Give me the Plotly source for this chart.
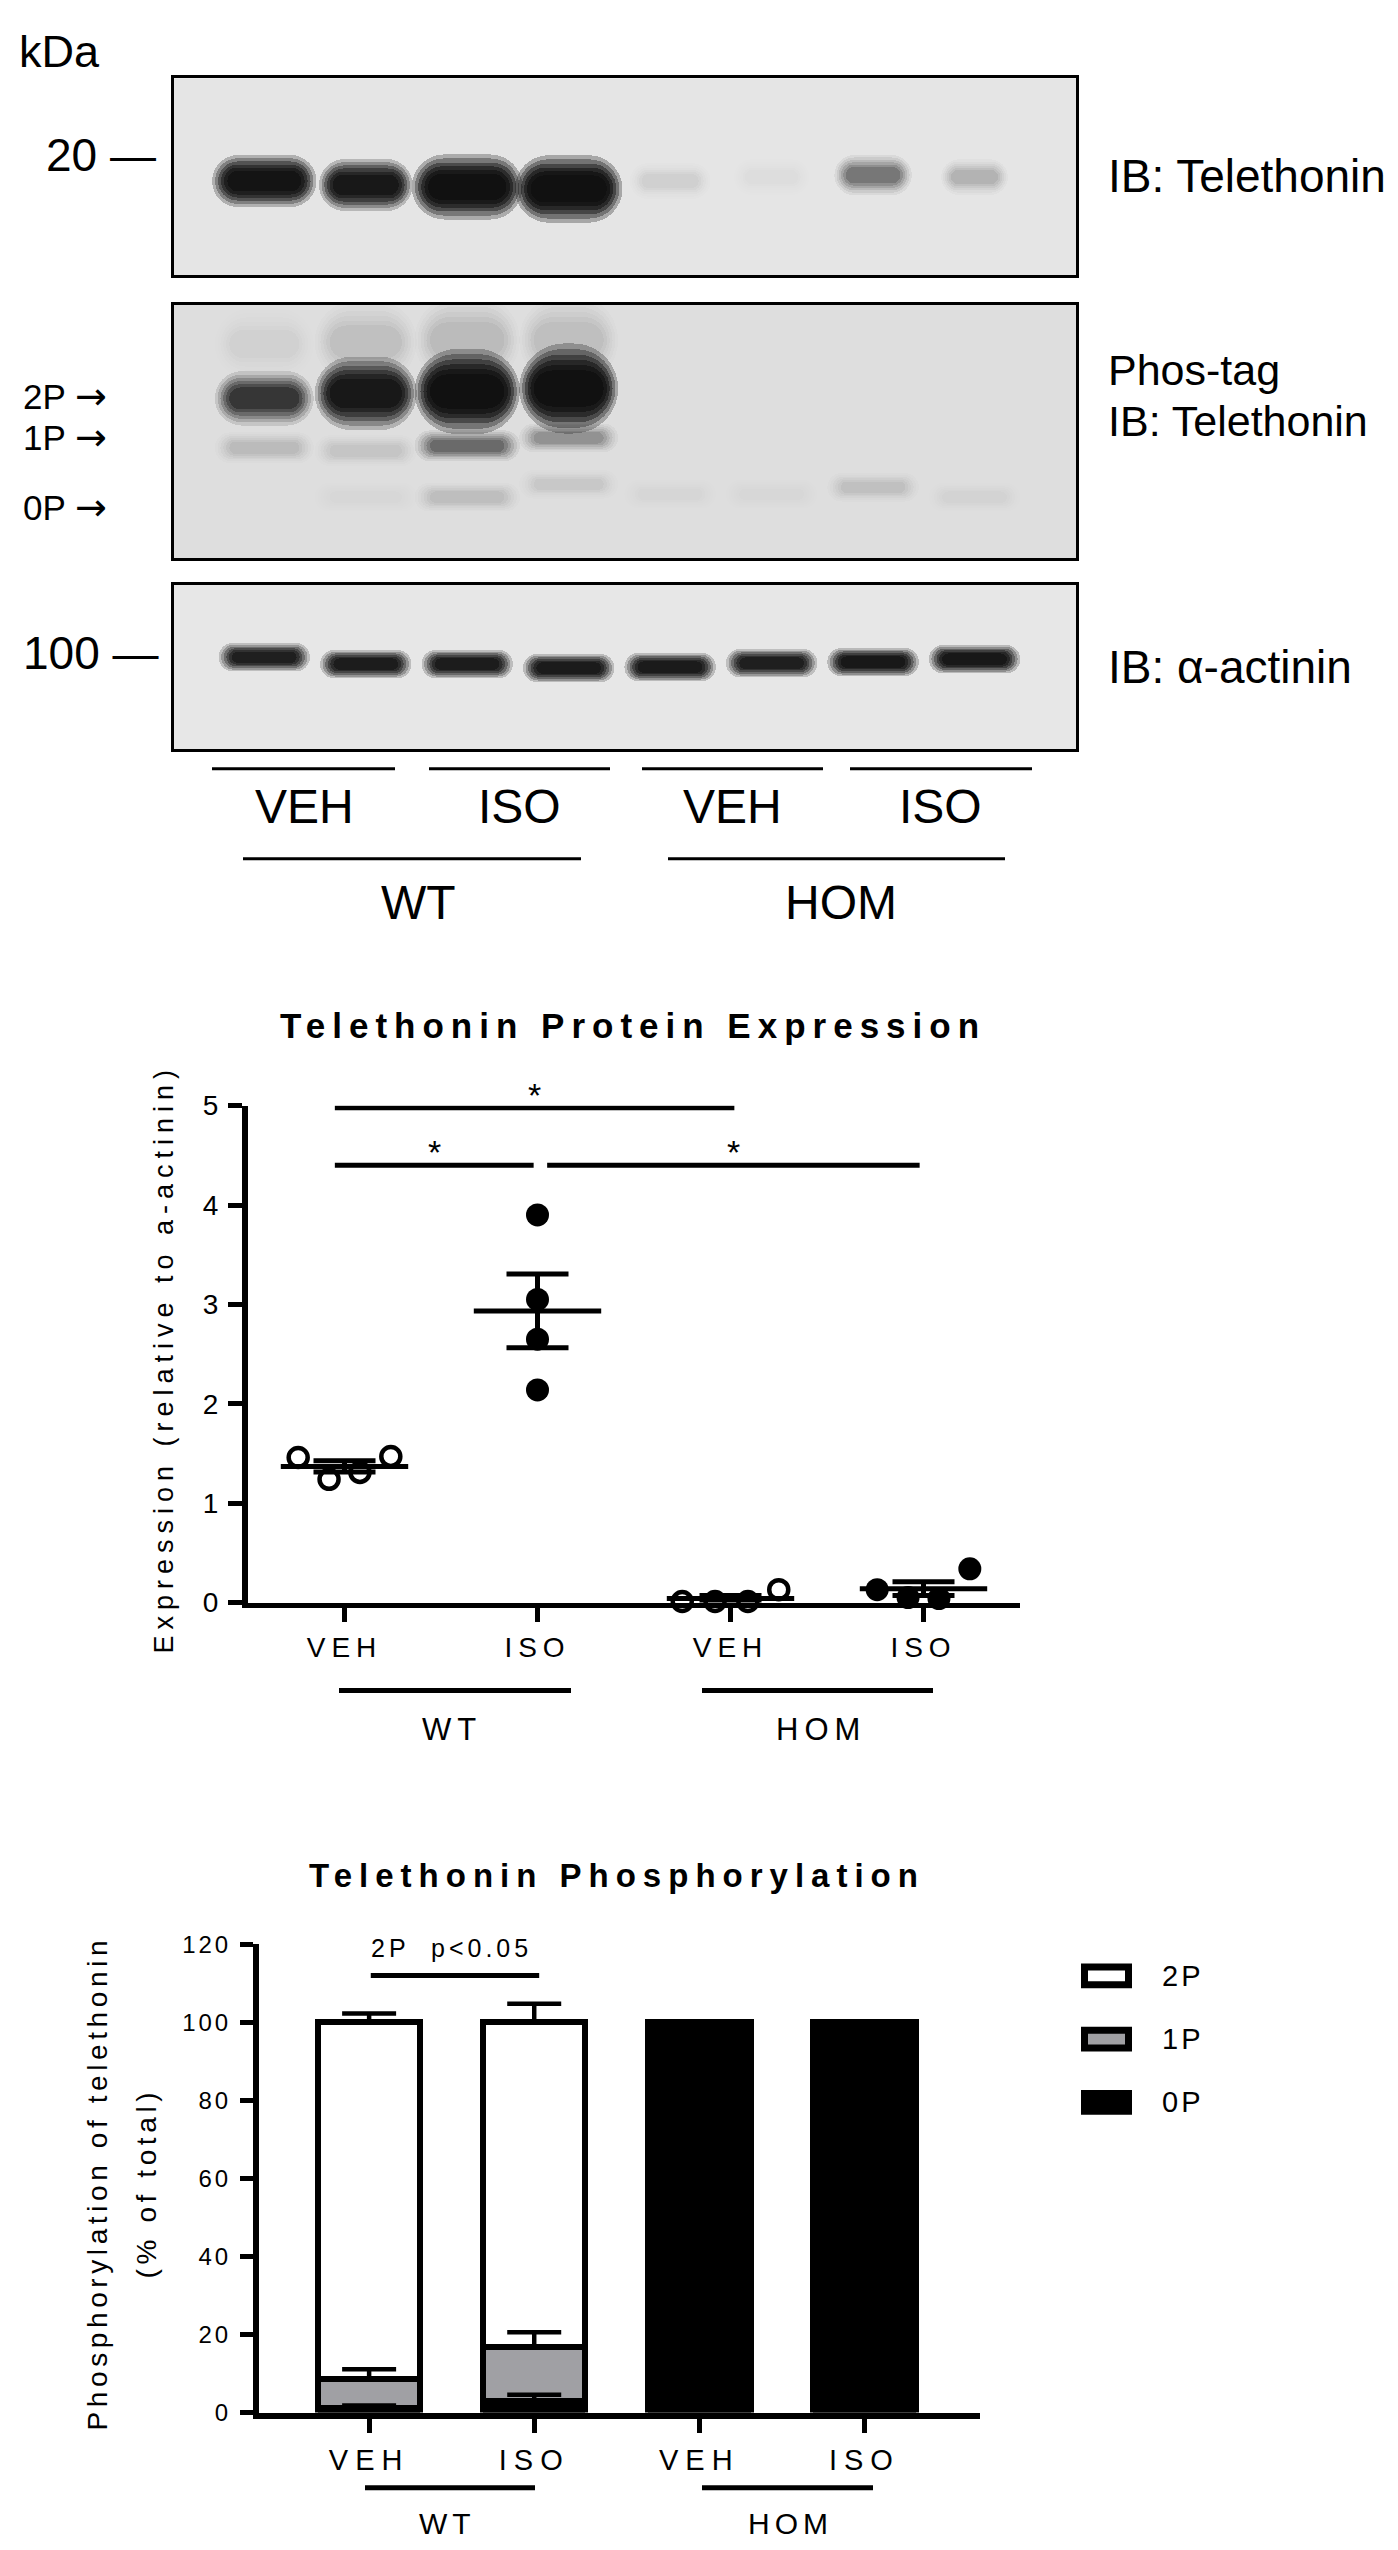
import numpy as np
import plotly.graph_objects as go

W, H = 1398, 2550
FONT = "Liberation Sans, Arial, Helvetica, sans-serif"


def px(x):
    return x / W


def py(y):
    return 1 - y / H


def spaced(text, gap):
    return f'<span style="letter-spacing:{gap}px">{text}</span>'


# ---------------- western blots ----------------
lanes = [1, 2, 3, 4, 5, 6, 7, 8]
treatments = ["VEH", "ISO", "VEH", "ISO"]
genotypes = ["WT", "HOM"]

# IB: Telethonin  (darkness 0-1, band centre / height in px below blot top, width in lanes)
tel_int = [0.97, 0.95, 0.98, 0.99, 0.08, 0.03, 0.50, 0.22]
tel_pos = [104, 108, 110, 112, 104, 100, 98, 100]
tel_h = [44, 44, 55, 57, 30, 30, 34, 30]
tel_w = [0.97, 0.87, 1.03, 1.00, 0.75, 0.70, 0.72, 0.62]

# Phos-tag IB: Telethonin
smear_int = [0.05, 0.12, 0.15, 0.13, 0, 0, 0, 0]
smear_pos = [40, 38, 36, 36, 40, 40, 40, 40]
smear_h = [60, 70, 75, 75, 60, 60, 60, 60]
p2_int = [0.80, 0.95, 0.98, 0.98, 0, 0, 0, 0]
p2_pos = [95, 90, 88, 85, 90, 90, 90, 90]
p2_h = [46, 62, 72, 76, 40, 40, 40, 40]
p1_int = [0.15, 0.10, 0.55, 0.35, 0, 0, 0, 0]
p1_pos = [145, 148, 143, 135, 145, 145, 145, 145]
p1_h = [26, 26, 26, 24, 24, 24, 24, 24]
p0_int = [0, 0.02, 0.14, 0.09, 0.03, 0.02, 0.12, 0.04]
p0_pos = [195, 195, 195, 182, 192, 192, 185, 195]
p0_h = [24, 24, 24, 24, 24, 24, 24, 24]
phos_w = [0.92, 0.95, 0.98, 0.92, 0.85, 0.85, 0.85, 0.85]

# IB: alpha-actinin
act_int = [0.92, 0.93, 0.93, 0.94, 0.94, 0.92, 0.95, 0.95]
act_pos = [73, 80, 80, 84, 83, 79, 78, 75]
act_h = [24, 24, 24, 24, 24, 24, 24, 24]
act_w = [0.85, 0.85, 0.85, 0.85, 0.85, 0.85, 0.85, 0.85]

# ---------------- expression scatter ----------------
groups = [0, 1, 2, 3]
wt_veh = [1.46, 1.24, 1.31, 1.47]
wt_iso = [3.90, 3.05, 2.65, 2.14]
hom_veh = [0.01, 0.01, 0.01, 0.13]
hom_iso = [0.13, 0.05, 0.04, 0.34]
expr_values = [wt_veh, wt_iso, hom_veh, hom_iso]
# horizontal spread of the dots (category units)
expr_offsets = [[-0.24, -0.08, 0.08, 0.24], [0, 0, 0, 0],
                [-0.25, -0.08, 0.09, 0.25], [-0.24, -0.08, 0.08, 0.24]]
expr_open = [True, False, True, False]
sig_pairs = [(-0.05, 2.02), (-0.05, 0.98), (1.05, 2.98)]
sig_levels = [4.98, 4.40, 4.40]

# ---------------- phosphorylation stacked bars ----------------
phos_0p = [1.2, 3.0, 100, 100]
phos_1p = [7.3, 13.8, 0, 0]
phos_2p = [91.5, 83.2, 0, 0]
sem_0p = [0.6, 1.6, 0, 0]
sem_1p = [2.6, 3.8, 0, 0]
sem_2p = [2.3, 4.8, 0, 0]

fig = go.Figure()

# ---- blot bands: each band is a stack of soft rounded bars ----
layer_w = [1.06, 1.00, 0.94, 0.88, 0.82, 0.75]
layer_h = [1.20, 1.05, 0.90, 0.76, 0.62, 0.48]
layer_f = [0.08, 0.10, 0.14, 0.18, 0.22, 0.28]


def add_band(n, darkness, pos, height, width):
    ax = "" if n == 1 else str(n)
    for k in range(len(layer_f)):
        cols = []
        for d in darkness:
            a = 1 - (1 - min(d, 0.985)) ** layer_f[k]
            cols.append(f"rgba(14,14,14,{a:.3f})")
        fig.add_trace(go.Bar(
            orientation="h", y=pos,
            base=[ln - w / 2 * layer_w[k] for ln, w in zip(lanes, width)],
            x=[w * layer_w[k] for w in width],
            width=[h * layer_h[k] for h in height],
            marker=dict(color=cols, line=dict(width=0), cornerradius="50%"),
            xaxis="x" + ax, yaxis="y" + ax, hoverinfo="skip", showlegend=False))


add_band(1, tel_int, tel_pos, tel_h, tel_w)
add_band(2, smear_int, smear_pos, smear_h, phos_w)
add_band(2, p2_int, p2_pos, p2_h, phos_w)
add_band(2, p1_int, p1_pos, p1_h, phos_w)
add_band(2, p0_int, p0_pos, p0_h, phos_w)
add_band(3, act_int, act_pos, act_h, act_w)

# ---- expression dots, mean and SEM ----
for g, vals, offs, op in zip(groups, expr_values, expr_offsets, expr_open):
    fig.add_trace(go.Scatter(
        x=[g + o for o in offs], y=vals, mode="markers", cliponaxis=False,
        marker=dict(symbol="circle-open" if op else "circle", size=19 if op else 23,
                    color="black", line=dict(color="black", width=4.5 if op else 0)),
        xaxis="x4", yaxis="y4", showlegend=False))
    arr = np.array(vals)
    fig.add_trace(go.Scatter(
        x=[g], y=[arr.mean()], mode="markers", cliponaxis=False,
        marker=dict(symbol="line-ew", size=91, line=dict(color="black", width=5)),
        error_y=dict(type="data", array=[arr.std(ddof=1) / np.sqrt(len(arr))],
                     color="black", thickness=5, width=31),
        xaxis="x4", yaxis="y4", showlegend=False))

# ---- stacked phosphorylation bars ----
bar_cols = {"0P": "black", "1P": "#a0a0a4", "2P": "white"}
for name, vals in [("0P", phos_0p), ("1P", phos_1p), ("2P", phos_2p)]:
    fig.add_trace(go.Bar(
        x=groups, y=[v if v > 0 else None for v in vals], name=name, width=0.62,
        marker=dict(color=bar_cols[name], line=dict(color="black", width=6)),
        xaxis="x5", yaxis="y5", showlegend=False))

tops = np.cumsum([phos_0p, phos_1p, phos_2p], axis=0)
for top, sem in zip(tops, [sem_0p, sem_1p, sem_2p]):
    keep = [i for i in groups if sem[i] > 0]
    fig.add_trace(go.Scatter(
        x=keep, y=[top[i] for i in keep], mode="markers",
        marker=dict(size=1, color="rgba(0,0,0,0)"),
        error_y=dict(type="data", symmetric=False, array=[sem[i] for i in keep],
                     arrayminus=[0] * len(keep), color="black", thickness=4.5, width=27),
        xaxis="x5", yaxis="y5", showlegend=False, cliponaxis=False))

# ---------------- axes ----------------
blot_frame = dict(showline=True, mirror=True, linewidth=3, linecolor="black",
                  showgrid=False, zeroline=False, showticklabels=False, ticks="")
blot_x = [166, 1068]
blot_y = [(56, 255), (285, 542), (569, 735)]
layout_axes = {}
for n, (top, bot) in enumerate(blot_y, start=1):
    sfx = "" if n == 1 else str(n)
    layout_axes["xaxis" + sfx] = dict(blot_frame, domain=[px(blot_x[0]), px(blot_x[1])],
                                      range=[0.11, 9.0], anchor="y" + sfx)
    layout_axes["yaxis" + sfx] = dict(blot_frame, domain=[py(bot), py(top)],
                                      range=[bot - top, 0], anchor="x" + sfx)

tick_font = dict(family=FONT, size=28, color="black")
layout_axes["xaxis4"] = dict(
    domain=[px(240), px(1012)], range=[-0.5, 3.5], anchor="y4",
    showline=True, linewidth=5, linecolor="black", showgrid=False, zeroline=False,
    ticks="outside", ticklen=14, tickwidth=5, tickcolor="black",
    tickvals=groups, ticktext=[spaced(t, 6) for t in treatments], tickfont=tick_font,
    ticklabelstandoff=2)
layout_axes["yaxis4"] = dict(
    domain=[py(1599), py(1096)], range=[0, 5], anchor="x4",
    showline=True, linewidth=6, linecolor="black", showgrid=False, zeroline=False,
    ticks="outside", ticklen=14, tickwidth=5, tickcolor="black",
    tickvals=[0, 1, 2, 3, 4, 5], tickfont=tick_font, ticklabelstandoff=4)
layout_axes["xaxis5"] = dict(
    domain=[px(251), px(972)], range=[-0.667, 3.70], anchor="y5",
    showline=True, linewidth=6, linecolor="black", showgrid=False, zeroline=False,
    ticks="outside", ticklen=14, tickwidth=5, tickcolor="black",
    tickvals=groups, ticktext=[spaced(t, 7) for t in treatments],
    tickfont=dict(family=FONT, size=29, color="black"), ticklabelstandoff=3)
layout_axes["yaxis5"] = dict(
    domain=[py(2419), py(1945)], range=[0, 120], anchor="x5",
    showline=True, linewidth=6, linecolor="black", showgrid=False, zeroline=False,
    ticks="outside", ticklen=13, tickwidth=5, tickcolor="black",
    tickvals=[0, 20, 40, 60, 80, 100, 120], ticktext=[spaced(str(v), 3) for v in range(0, 121, 20)],
    tickfont=dict(family=FONT, size=24, color="black"), ticklabelstandoff=4)

# ---------------- text ----------------
ann = []


def text(x, y, s, size, anchor="center", bold=False, angle=0):
    ann.append(dict(x=px(x), y=py(y), xref="paper", yref="paper", text=s, showarrow=False,
                    xanchor=anchor, yanchor="middle", textangle=angle,
                    font=dict(family=FONT, size=size, color="black",
                              weight="bold" if bold else "normal")))


ARROW = '<span style="font-family:DejaVu Sans;font-size:38px">→</span>'

# blot labels
text(9, 29, "kDa", 45, "left")
text(36, 134, "20 —", 46, "left")
text(13, 638, "100 —", 46, "left")
text(13, 378, "2P " + ARROW, 35, "left")
text(13, 419, "1P " + ARROW, 35, "left")
text(13, 490, "0P " + ARROW, 35, "left")
text(1098, 155, "IB: Telethonin", 46, "left")
text(1098, 351, "Phos-tag", 43, "left")
text(1098, 403, "IB: Telethonin", 43, "left")
text(1098, 652, "IB: α-actinin", 46, "left")
for x, t in zip([296, 511, 724, 932], treatments):
    text(x, 793, t, 48)
for x, t in zip([410, 833], genotypes):
    text(x, 890, t, 48)

# expression chart
text(625, 1015, spaced("Telethonin Protein Expression", 7), 35, bold=True)
text(156, 1352, spaced("Expression (relative to a-actinin)", 6), 27, angle=-90)
for x, t in zip([444, 813], genotypes):
    text(x, 1728, spaced(t, 6), 31)
for (a, b), lvl in zip(sig_pairs, sig_levels):
    ann.append(dict(x=(a + b) / 2, y=lvl, xref="x4", yref="y4", text="*", showarrow=False,
                    yanchor="bottom", yshift=-8, font=dict(family=FONT, size=34, color="black")))

# phosphorylation chart
text(609, 1875, spaced("Telethonin Phosphorylation", 7), 33, bold=True)
text(89, 2187, spaced("Phosphorylation of telethonin", 4.6), 28, angle=-90)
text(138, 2187, spaced("(% of total)", 4.6), 28, angle=-90)
text(443, 1949, spaced("2P  p<0.05", 4), 25)
for x, t in zip([439, 782], genotypes):
    text(x, 2531, spaced(t, 5), 30)
for y, t in zip([1977, 2041, 2105], ["2P", "1P", "0P"]):
    text(1152, y, spaced(t, 3), 29, "left")

# ---------------- lines / boxes ----------------
shapes = []


def hline(x0, x1, y, w=4, xref="paper", yref="paper"):
    if xref == "paper":
        x0, x1 = px(x0), px(x1)
    if yref == "paper":
        y = py(y)
    shapes.append(dict(type="line", xref=xref, yref=yref, x0=x0, x1=x1, y0=y, y1=y,
                       line=dict(color="black", width=w)))


for n, bg in zip(["", "2", "3"], ["#e5e5e5", "#dedede", "#e7e7e7"]):
    shapes.append(dict(type="rect", xref=f"x{n} domain", yref=f"y{n} domain",
                       x0=0, x1=1, y0=0, y1=1, fillcolor=bg, line=dict(width=0), layer="below"))

for x0, x1 in [(204, 387), (421, 602), (634, 815), (842, 1024)]:
    hline(x0, x1, 755, 3)
for x0, x1 in [(235, 573), (660, 997)]:
    hline(x0, x1, 846, 3)

for (a, b), lvl in zip(sig_pairs, sig_levels):
    hline(a, b, lvl, 5, xref="x4", yref="y4")
for x0, x1 in [(331, 563), (694, 925)]:
    hline(x0, x1, 1688, 5)

hline(0.01, 1.03, 112, 5, xref="x5", yref="y5")
for x0, x1 in [(357, 527), (694, 865)]:
    hline(x0, x1, 2495, 5)

for y, name in zip([1977, 2041, 2105], ["2P", "1P", "0P"]):
    shapes.append(dict(type="rect", xref="paper", yref="paper",
                       x0=px(1076.5), x1=px(1120.5), y0=py(y + 9), y1=py(y - 9),
                       fillcolor=bar_cols[name], line=dict(color="black", width=7)))

fig.update_layout(
    width=W, height=H, margin=dict(l=0, r=0, t=0, b=0),
    paper_bgcolor="white", plot_bgcolor="white",
    barmode="stack", showlegend=False,
    font=dict(family=FONT, color="black"),
    annotations=ann, shapes=shapes, **layout_axes)

fig.write_html("out.html")
